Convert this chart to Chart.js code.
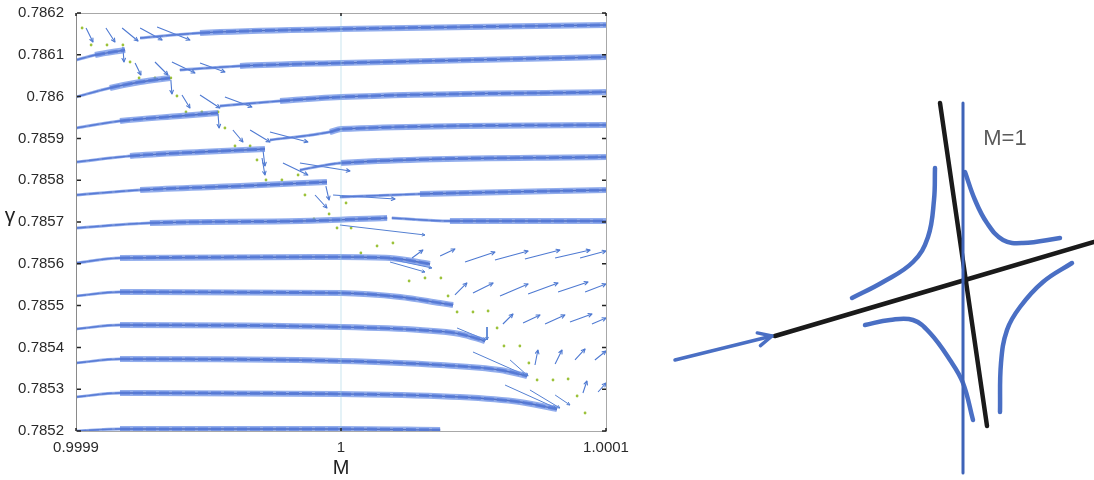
<!DOCTYPE html>
<html>
<head>
<meta charset="utf-8">
<script src="https://cdn.jsdelivr.net/npm/chart.js@4.4.1/dist/chart.umd.min.js"></script>
<style>
  body { margin: 0; background: #fff; }
  #wrap { position: relative; width: 1094px; height: 480px; overflow: hidden; background: #fff; }
  #flow { position: absolute; left: 0; top: 0; }
  #sketch { position: absolute; left: 650px; top: 90px; }
</style>
</head>
<body>
<div id="wrap">
  <canvas id="flow" width="640" height="480"></canvas>
  <canvas id="sketch" width="444" height="390"></canvas>
</div>
<script>
// Axis ticks
const xTicks = [0.9999, 1, 1.0001];
const xTickLabels = ['0.9999', '1', '1.0001'];
const yTicks = [0.7852, 0.7853, 0.7854, 0.7855, 0.7856, 0.7857, 0.7858, 0.7859, 0.786, 0.7861, 0.7862];
const yTickLabels = ['0.7852', '0.7853', '0.7854', '0.7855', '0.7856', '0.7857', '0.7858', '0.7859', '0.786', '0.7861', '0.7862'];

// Streamlines, [M, gamma] points
// left of the separatrix, running up to the turning points
const streamsLeft = [
  [[0.9999000, 0.7860876], [0.9999072, 0.7860995], [0.9999185, 0.7861115]],
  [[0.9999000, 0.7859990], [0.9999128, 0.7860206], [0.9999242, 0.7860349], [0.9999355, 0.7860445]],
  [[0.9999000, 0.7859249], [0.9999166, 0.7859416], [0.9999392, 0.7859536], [0.9999536, 0.7859608]],
  [[0.9999000, 0.7858435], [0.9999204, 0.7858579], [0.9999468, 0.7858675], [0.9999713, 0.7858746]],
  [[0.9999000, 0.7857646], [0.9999242, 0.7857766], [0.9999619, 0.7857861], [0.9999947, 0.7857957]],
  [[0.9999000, 0.7856856], [0.9999279, 0.7856976], [0.9999845, 0.7857024], [1.0000174, 0.7857096]]
];
// right of the separatrix, settling towards the right edge
const streamsRight = [
  [[0.9999242, 0.7861402], [0.9999468, 0.7861522], [1.0000000, 0.7861617], [1.0001000, 0.7861713]],
  [[0.9999392, 0.7860636], [0.9999619, 0.7860732], [1.0000000, 0.7860804], [1.0001000, 0.7860947]],
  [[0.9999543, 0.7859775], [0.9999770, 0.7859895], [1.0000000, 0.7859990], [1.0001000, 0.7860110]],
  [[0.9999732, 0.7858962], [0.9999958, 0.7859153], [1.0000000, 0.7859225], [1.0001000, 0.7859321]],
  [[0.9999845, 0.7858244], [1.0000000, 0.7858411], [1.0001000, 0.7858555]],
  [[0.9999996, 0.7857598], [1.0000298, 0.7857670], [1.0001000, 0.7857766]],
  [[1.0000192, 0.7857096], [1.0000411, 0.7857024], [1.0001000, 0.7857024]]
];
// lower rows, bending down into the separatrix
const streamsLower = [
  [[0.9999000, 0.7856019], [0.9999166, 0.7856139], [1.0000000, 0.7856163], [1.0000185, 0.7856139], [1.0000336, 0.7855995]],
  [[0.9999000, 0.7855230], [0.9999166, 0.7855325], [1.0000000, 0.7855301], [1.0000223, 0.7855206], [1.0000374, 0.7855062], [1.0000423, 0.7855014]],
  [[0.9999000, 0.7854440], [0.9999166, 0.7854536], [1.0000000, 0.7854488], [1.0000298, 0.7854416], [1.0000449, 0.7854321], [1.0000543, 0.7854153]],
  [[0.9999000, 0.7853627], [0.9999166, 0.7853722], [1.0000000, 0.7853675], [1.0000374, 0.7853579], [1.0000600, 0.7853459], [1.0000702, 0.7853316]],
  [[0.9999000, 0.7852813], [0.9999166, 0.7852909], [1.0000000, 0.7852885], [1.0000449, 0.7852813], [1.0000675, 0.7852694], [1.0000815, 0.7852526]],
  [[0.9999000, 0.7852000], [0.9999166, 0.7852048], [1.0000000, 0.7852048], [1.0000374, 0.7852024]]
];

// Field arrows, [M0, g0, M1, g1] tail -> head
const arrowsDown = [
  [0.9999038, 0.7861641, 0.9999064, 0.7861306],
  [0.9999113, 0.7861641, 0.9999147, 0.7861306],
  [0.9999174, 0.7861641, 0.9999234, 0.7861330],
  [0.9999242, 0.7861641, 0.9999325, 0.7861354],
  [0.9999306, 0.7861665, 0.9999430, 0.7861354],
  [0.9999223, 0.7860804, 0.9999245, 0.7860517],
  [0.9999298, 0.7860828, 0.9999347, 0.7860517],
  [0.9999362, 0.7860828, 0.9999449, 0.7860565],
  [0.9999468, 0.7860804, 0.9999562, 0.7860589],
  [0.9999400, 0.7860038, 0.9999430, 0.7859727],
  [0.9999468, 0.7860038, 0.9999543, 0.7859727],
  [0.9999562, 0.7859990, 0.9999664, 0.7859751],
  [0.9999592, 0.7859201, 0.9999630, 0.7858914],
  [0.9999657, 0.7859201, 0.9999732, 0.7858914],
  [0.9999732, 0.7859153, 0.9999875, 0.7858914],
  [0.9999702, 0.7858531, 0.9999713, 0.7858124],
  [0.9999781, 0.7858411, 0.9999875, 0.7858124],
  [0.9999845, 0.7858411, 1.0000034, 0.7858220],
  [0.9999902, 0.7857646, 0.9999947, 0.7857335],
  [0.9999970, 0.7857646, 1.0000204, 0.7857550],
  [0.9999177, 0.7861187, 0.9999181, 0.7860828],
  [0.9999358, 0.7860397, 0.9999362, 0.7860062],
  [0.9999536, 0.7859584, 0.9999540, 0.7859249],
  [0.9999706, 0.7858699, 0.9999713, 0.7858340],
  [0.9999943, 0.7857861, 0.9999955, 0.7857526]
];
const arrowsUp = [
  [1.0000268, 0.7856139, 1.0000309, 0.7856330],
  [1.0000374, 0.7856187, 1.0000430, 0.7856354],
  [1.0000468, 0.7856043, 1.0000581, 0.7856282],
  [1.0000581, 0.7856091, 1.0000706, 0.7856306],
  [1.0000694, 0.7856115, 1.0000826, 0.7856330],
  [1.0000808, 0.7856139, 1.0000940, 0.7856330],
  [1.0000902, 0.7856139, 1.0001000, 0.7856306],
  [1.0000430, 0.7855254, 1.0000475, 0.7855541],
  [1.0000498, 0.7855301, 1.0000574, 0.7855541],
  [1.0000600, 0.7855230, 1.0000706, 0.7855517],
  [1.0000706, 0.7855278, 1.0000819, 0.7855541],
  [1.0000819, 0.7855325, 1.0000932, 0.7855565],
  [1.0000921, 0.7855325, 1.0001000, 0.7855517],
  [1.0000611, 0.7854560, 1.0000649, 0.7854799],
  [1.0000687, 0.7854584, 1.0000751, 0.7854775],
  [1.0000770, 0.7854560, 1.0000845, 0.7854775],
  [1.0000864, 0.7854608, 1.0000947, 0.7854799],
  [1.0000947, 0.7854560, 1.0001000, 0.7854703],
  [1.0000732, 0.7853579, 1.0000743, 0.7853938],
  [1.0000808, 0.7853603, 1.0000834, 0.7853938],
  [1.0000883, 0.7853699, 1.0000921, 0.7853962],
  [1.0000958, 0.7853699, 1.0001000, 0.7853914],
  [1.0000913, 0.7852909, 1.0000928, 0.7853196],
  [1.0000970, 0.7852933, 1.0001000, 0.7853148]
];
const fanStreaks = [
  [1.0000166, 0.7856139, 1.0000343, 0.7855900],
  [1.0000185, 0.7856043, 1.0000317, 0.7855804],
  [0.9999996, 0.7856928, 1.0000317, 0.7856689],
  [1.0000438, 0.7854464, 1.0000547, 0.7854177],
  [1.0000551, 0.7854488, 1.0000551, 0.7854177],
  [1.0000498, 0.7853890, 1.0000694, 0.7853340],
  [1.0000638, 0.7853699, 1.0000706, 0.7853316],
  [1.0000619, 0.7853100, 1.0000811, 0.7852550],
  [1.0000713, 0.7852981, 1.0000826, 0.7852550],
  [1.0000808, 0.7852861, 1.0000864, 0.7852622]
];

// Turning points along the separatrix
const separatrixDots = [
  [0.9999023, 0.7861641], [0.9999057, 0.7861234], [0.9999117, 0.7861234], [0.9999177, 0.7861234],
  [0.9999204, 0.7860828], [0.9999238, 0.7860445], [0.9999298, 0.7860445], [0.9999358, 0.7860445],
  [0.9999381, 0.7860014], [0.9999415, 0.7859632], [0.9999475, 0.7859632], [0.9999536, 0.7859632],
  [0.9999562, 0.7859249], [0.9999600, 0.7858818], [0.9999657, 0.7858818], [0.9999683, 0.7858483],
  [0.9999717, 0.7858005], [0.9999777, 0.7858005], [0.9999838, 0.7858124], [0.9999864, 0.7857646],
  [0.9999898, 0.7857072], [0.9999955, 0.7857191], [1.0000019, 0.7857455], [0.9999985, 0.7856856],
  [1.0000038, 0.7856856], [1.0000075, 0.7856258], [1.0000136, 0.7856426], [1.0000196, 0.7856498],
  [1.0000257, 0.7855589], [1.0000317, 0.7855660], [1.0000377, 0.7855660], [1.0000404, 0.7855230],
  [1.0000438, 0.7854847], [1.0000498, 0.7854847], [1.0000555, 0.7854871], [1.0000589, 0.7854464],
  [1.0000615, 0.7854034], [1.0000675, 0.7854034], [1.0000709, 0.7853627], [1.0000740, 0.7853220],
  [1.0000800, 0.7853220], [1.0000857, 0.7853244], [1.0000891, 0.7852837], [1.0000921, 0.7852431]
];
const mOneLine = [[1, 0.7852], [1, 0.7862]];

// Sketch of the saddle, in drawing units (x right, y down)
const sketchVertical = [[313, 13], [313, 383]];
const sketchSteep = [[290, 13], [337, 336]];
const sketchShallow = [[125, 246], [444, 152]];
const sketchArrow = [[25, 270], [122, 246]];
const hyperUpperLeft = [[285, 78], [284, 110], [278, 147], [263, 172], [233, 192], [202, 208]];
const hyperUpperRight = [[315, 82], [325, 110], [337, 133], [353, 150], [373, 153], [410, 148]];
const hyperLowerLeft = [[215, 235], [240, 230], [263, 230], [280, 243], [300, 270], [313, 293], [323, 330]];
const hyperLowerRight = [[422, 173], [393, 192], [370, 217], [357, 240], [351, 273], [350, 322]];
const sketchLabel = 'M=1';
const sketchLabelAt = [355, 49];

Chart.defaults.font.family = '"Liberation Sans", Arial, sans-serif';

const toPts = line => line.map(([x, y]) => ({x, y}));
const toSegs = list => list.flatMap(([x0, y0, x1, y1]) => [{x: x0, y: y0}, {x: x1, y: y1}, {x: x1, y: null}]);

// Draws an open arrow head at the end of every tail->head pair
const arrowHeads = {
  id: 'arrowHeads',
  afterDatasetsDraw(chart) {
    const ctx = chart.ctx;
    chart.data.datasets.forEach((ds, i) => {
      if (!ds.headSize) return;
      const pts = chart.getDatasetMeta(i).data;
      const step = ds.headStep || 3;
      ctx.save();
      ctx.strokeStyle = ds.borderColor;
      ctx.lineWidth = ds.borderWidth;
      ctx.lineCap = 'round';
      ctx.lineJoin = 'round';
      for (let k = 0; k + 1 < pts.length; k += step) {
        const a = pts[k], b = pts[k + 1];
        const ang = Math.atan2(b.y - a.y, b.x - a.x);
        const h = ds.headSize;
        ctx.beginPath();
        ctx.moveTo(b.x - h * Math.cos(ang - 0.45), b.y - h * Math.sin(ang - 0.45));
        ctx.lineTo(b.x, b.y);
        ctx.lineTo(b.x - h * Math.cos(ang + 0.45), b.y - h * Math.sin(ang + 0.45));
        ctx.stroke();
      }
      ctx.restore();
    });
  }
};

// Box round the plot with small inward ticks
const frame = {
  id: 'frame',
  afterDatasetsDraw(chart) {
    const {ctx, chartArea: a, scales: {x, y}} = chart;
    ctx.save();
    ctx.strokeStyle = '#a8a8a8';
    ctx.lineWidth = 1;
    ctx.strokeRect(a.left + 0.5, a.top + 0.5, a.right - a.left, a.bottom - a.top);
    ctx.strokeStyle = '#8a8a8a';
    ctx.beginPath();
    ctx.moveTo(a.left + 0.5, a.top); ctx.lineTo(a.left + 0.5, a.bottom);
    ctx.stroke();
    ctx.strokeStyle = '#222';
    ctx.lineWidth = 1.5;
    ctx.beginPath();
    y.ticks.forEach(t => {
      const py = y.getPixelForValue(t.value);
      ctx.moveTo(a.left + 1, py); ctx.lineTo(a.left + 5, py);
      ctx.moveTo(a.right - 4, py); ctx.lineTo(a.right, py);
    });
    x.ticks.forEach(t => {
      const px = x.getPixelForValue(t.value);
      ctx.moveTo(px, a.top); ctx.lineTo(px, a.top + 3);
      ctx.moveTo(px, a.bottom); ctx.lineTo(px, a.bottom - 3);
    });
    ctx.stroke();
    ctx.fillStyle = '#222';
    ctx.font = '21px "Liberation Sans", Arial, sans-serif';
    ctx.textAlign = 'center';
    ctx.textBaseline = 'middle';
    ctx.fillText('γ', 10, 216);
    ctx.restore();
  }
};

const streams = [...streamsLeft, ...streamsRight, ...streamsLower];
const streamLayer = (color, width, firstWidth, dash) => streams.map(s => ({
  data: toPts(s), showLine: true, pointRadius: 0, tension: 0.4, cubicInterpolationMode: 'monotone',
  borderColor: color, borderWidth: width, borderDash: dash || [],
  segment: { borderWidth: c => c.p0DataIndex === 0 ? firstWidth : width }
}));

const flowDatasets = [
  { data: toPts(mOneLine), showLine: true, borderColor: 'rgba(150,205,225,0.5)', borderWidth: 1, pointRadius: 0 },
  ...streamLayer('rgba(104,142,228,0.72)', 6, 3),
  ...streamLayer('rgba(44,74,180,0.85)', 3, 1.4, [10, 3]),
  ...streamLayer('#18246a', 1.3, 0.8),
  { data: toSegs(arrowsDown), showLine: true, pointRadius: 0, borderColor: '#4f7ad2', borderWidth: 1.1, headSize: 4 },
  { data: toSegs(arrowsUp), showLine: true, pointRadius: 0, borderColor: '#4f7ad2', borderWidth: 1.1, headSize: 4 },
  { data: toSegs(fanStreaks), showLine: true, pointRadius: 0, borderColor: '#5580d2', borderWidth: 1, headSize: 3 },
  { data: toPts(separatrixDots), showLine: false, pointRadius: 1.4, backgroundColor: '#9cc23a', borderWidth: 0 }
];

new Chart(document.getElementById('flow'), {
  type: 'scatter',
  data: { datasets: flowDatasets },
  options: {
    responsive: false,
    animation: false,
    events: [],
    layout: { padding: { left: 0, right: 34, top: 13, bottom: 0 } },
    plugins: { legend: { display: false }, tooltip: { enabled: false } },
    scales: {
      x: {
        type: 'linear', min: 0.9999, max: 1.0001,
        afterBuildTicks: s => { s.ticks = xTicks.map(v => ({value: v})); },
        afterFit: s => { s.height = 49; },
        grid: { display: false },
        border: { display: false },
        ticks: { callback: (v, i) => xTickLabels[i], color: '#2a2a2a', font: { size: 15 }, padding: 0, maxRotation: 0, autoSkip: false },
        title: { display: true, text: 'M', color: '#222', font: { size: 20 }, padding: { top: 0, bottom: 0 } }
      },
      y: {
        type: 'linear', min: 0.7852, max: 0.7862,
        afterBuildTicks: s => { s.ticks = yTicks.map(v => ({value: v})); },
        afterFit: s => { s.width = 76; },
        grid: { display: false },
        border: { display: false },
        ticks: { callback: (v, i) => yTickLabels[i], color: '#2a2a2a', font: { size: 15 }, padding: 4, autoSkip: false }
      }
    }
  },
  plugins: [arrowHeads, frame]
});

// Right-hand sketch
const sketchText = {
  id: 'sketchText',
  afterDraw(chart) {
    const {ctx, scales: {x, y}} = chart;
    ctx.save();
    ctx.fillStyle = '#5a5a5a';
    ctx.font = '300 22px "Liberation Sans", Arial, sans-serif';
    ctx.textAlign = 'center';
    ctx.textBaseline = 'middle';
    ctx.fillText(sketchLabel, x.getPixelForValue(sketchLabelAt[0]), y.getPixelForValue(sketchLabelAt[1]));
    ctx.restore();
  }
};

const curve = (pts, color, width) => ({
  data: toPts(pts), showLine: true, pointRadius: 0, tension: 0.4,
  borderColor: color, borderWidth: width, borderCapStyle: 'round'
});

new Chart(document.getElementById('sketch'), {
  type: 'scatter',
  data: {
    datasets: [
      curve(sketchVertical, '#3e63b8', 3),
      curve(hyperUpperLeft, '#4a6fc4', 4.5),
      curve(hyperUpperRight, '#4a6fc4', 4.5),
      curve(hyperLowerLeft, '#4a6fc4', 4.5),
      curve(hyperLowerRight, '#4a6fc4', 4.5),
      curve(sketchSteep, '#1a1a1a', 4.5),
      curve(sketchShallow, '#1a1a1a', 4.5),
      Object.assign(curve(sketchArrow, '#4a6fc4', 3.5), { headSize: 15, headStep: 2 })
    ]
  },
  options: {
    responsive: false,
    animation: false,
    events: [],
    layout: { padding: 0 },
    plugins: { legend: { display: false }, tooltip: { enabled: false } },
    scales: {
      x: { type: 'linear', display: false, min: 0, max: 444 },
      y: { type: 'linear', display: false, min: 0, max: 390, reverse: true }
    }
  },
  plugins: [arrowHeads, sketchText]
});
</script>
</body>
</html>
